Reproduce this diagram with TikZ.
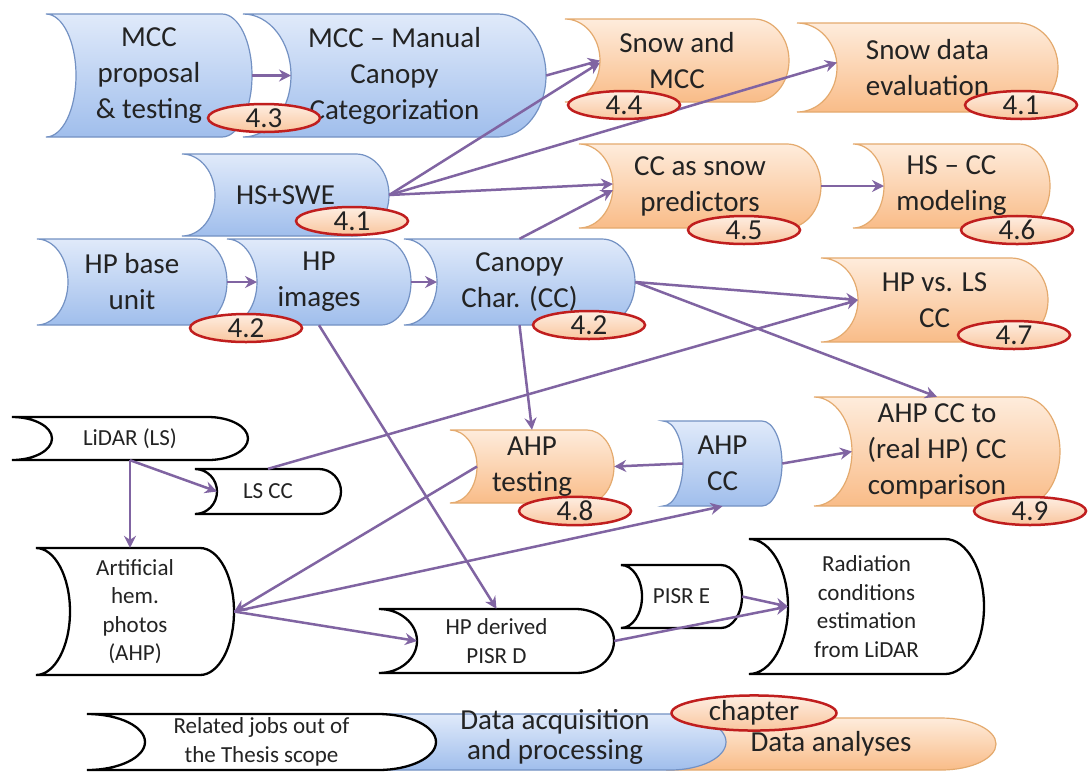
\documentclass[tikz,border=0pt]{standalone}
\usepackage{fontspec}
\setmainfont{Carlito}
\usetikzlibrary{arrows.meta,shapes.geometric}
\definecolor{arrowc}{RGB}{128,100,162}
\definecolor{blueT}{RGB}{224,234,250}
\definecolor{blueB}{RGB}{160,190,236}
\definecolor{blueD}{RGB}{115,145,195}
\definecolor{orT}{RGB}{254,236,220}
\definecolor{orB}{RGB}{249,188,136}
\definecolor{orD}{RGB}{228,170,110}
\definecolor{redD}{RGB}{192,30,30}
\definecolor{elT}{RGB}{254,238,226}
\definecolor{elB}{RGB}{249,198,158}
\definecolor{txtc}{RGB}{35,35,35}
\tikzset{
  box/.style={inner sep=0pt, align=center, text=txtc},
  big/.style={box, font=\fontsize{29}{36}\selectfont},
  small/.style={box, font=\fontsize{23}{28.5}\selectfont},
  legbig/.style={box, font=\fontsize{29}{30}\selectfont, yshift=5pt},
  bluesh/.style={draw=blueD, line width=1.2pt, top color=blueT, bottom color=blueB},
  orsh/.style={draw=orD, line width=1.2pt, top color=orT, bottom color=orB},
  whsh/.style={draw=black, line width=2.3pt, fill=white},
  num/.style={ellipse, draw=redD, line width=2.5pt, top color=elT, bottom color=elB,
    minimum width=112, minimum height=28, inner sep=0pt, text=txtc,
    font=\fontsize{29}{30}\selectfont},
  conn/.style={draw=arrowc, line width=2.5pt, -{Stealth[length=12pt,width=12pt,inset=4pt]}}
}
% #1 name, #2 shape style, #3 L, #4 T, #5 W, #6 H, #7 arc depth, #8 text style, #9 text
\newcommand\sdbox[9]{%
  \pgfmathsetmacro\sdR{#3+#5}%
  \pgfmathsetmacro\sdB{#4+#6}%
  \pgfmathsetmacro\sdM{#4+#6/2}%
  \pgfmathsetmacro\sdk{0.5523*#7}%
  \pgfmathsetmacro\sdh{0.5523*#6/2}%
  \pgfmathsetmacro\sdX{#3+#5/2}%
  \path[#2] (#3,#4) -- ({\sdR-#7},#4)
    .. controls ({\sdR-#7+\sdk},#4) and (\sdR,{\sdM-\sdh}) .. (\sdR,\sdM)
    .. controls (\sdR,{\sdM+\sdh}) and ({\sdR-#7+\sdk},\sdB) .. ({\sdR-#7},\sdB)
    -- (#3,\sdB)
    .. controls ({#3+\sdk},\sdB) and ({#3+#7},{\sdM+\sdh}) .. ({#3+#7},\sdM)
    .. controls ({#3+#7},{\sdM-\sdh}) and ({#3+\sdk},#4) .. (#3,#4) -- cycle;
  \node[#8, minimum width=#5, minimum height=#6] (#1) at (\sdX,\sdM) {#9};
  \coordinate (#1-in) at ({#3+#7},\sdM);
}
\begin{document}
\begin{tikzpicture}[x=1pt,y=-1pt]
\useasboundingbox[fill=white] (0,0) rectangle (1091,772);
% ---- shapes
\sdbox{mccp}{bluesh}{46}{14}{206}{123}{30}{big}{MCC\\proposal\\\& testing}
\sdbox{mccm}{bluesh}{243}{14}{303}{123}{48}{big}{MCC -- Manual\\Canopy\\Categorization}
\sdbox{hsswe}{bluesh}{182}{154}{207}{82}{33}{big}{HS+SWE}
\sdbox{snowmcc}{orsh}{565}{19}{224}{83}{35}{big}{Snow and\\MCC}
\sdbox{snoweval}{orsh}{797}{23}{261}{89}{40}{big}{Snow data\\evaluation}
\sdbox{ccpred}{orsh}{579}{144}{242}{84}{34}{big}{CC as snow\\predictors}
\sdbox{hscc}{orsh}{853}{144}{197}{84}{31}{big}{HS -- CC\\modeling}
\sdbox{hpbase}{bluesh}{37}{239}{190}{86}{31}{big}{HP base\\unit}
\sdbox{hpimg}{bluesh}{227}{239}{184}{86}{30}{big}{HP\\images}
\sdbox{canopy}{bluesh}{404}{239}{231}{86}{33}{big}{Canopy\\Char. (CC)}
\sdbox{hpls}{orsh}{821}{258}{227}{84}{37}{big}{HP vs. LS\\CC}
\sdbox{lidar}{whsh}{12}{417}{236}{43}{40}{small}{LiDAR (LS)}
\sdbox{lscc}{whsh}{195}{469}{146}{45}{22}{small}{LS CC}
\sdbox{ahptest}{orsh}{450}{430}{164}{73}{27}{big}{AHP\\testing}
\sdbox{ahpcc}{bluesh}{663}{421}{119}{85}{20}{big}{AHP\\CC}
\sdbox{cmp}{orsh}{814}{397}{246}{109}{38}{big}{AHP CC to\\(real HP) CC\\comparison}
\sdbox{ahp}{whsh}{36}{548}{198}{127}{34}{small}{Artificial\\hem.\\photos\\(AHP)}
\sdbox{pisrd}{whsh}{379}{609}{235}{64}{38}{small}{HP derived\\PISR D}
\sdbox{pisre}{whsh}{621}{565}{121}{63}{21}{small}{PISR E}
\sdbox{rad}{whsh}{749}{539}{235}{135}{39}{small}{Radiation\\conditions\\estimation\\from LiDAR}
% ---- legend
\sdbox{lego}{orsh}{666}{718}{330}{52}{55}{big}{Data analyses}
\sdbox{legb}{bluesh}{370}{714}{356}{56}{56}{legbig}{\hspace*{14pt}Data acquisition\\\hspace*{14pt}and processing}
\sdbox{legw}{whsh}{87}{714}{349}{56}{58}{small}{Related jobs out of\\the Thesis scope}
% ---- connectors
\draw[conn] (mccp.east) -- (mccm-in);
\draw[conn] (mccm.east) -- (snowmcc-in);
\draw[conn] (hsswe.east) -- ([yshift=-2pt]snowmcc-in);
\draw[conn] (hsswe.east) -- ([yshift=5pt]snoweval-in);
\draw[conn] (hsswe.east) -- ([yshift=2pt]ccpred-in);
\draw[conn] (canopy.north) -- ([yshift=-4pt]ccpred-in);
\draw[conn] (ccpred.east) -- (hscc-in);
\draw[conn] (hpbase.east) -- (hpimg-in);
\draw[conn] (hpimg.east) -- (canopy-in);
\draw[conn] (canopy.east) -- (hpls-in);
\draw[conn] (canopy.east) -- (cmp.north);
\draw[conn] (lscc.north) -- (hpls-in);
\draw[conn] (canopy.south) -- (ahptest.north);
\draw[conn] (hpimg.south) -- (pisrd.north);
\draw[conn] (lidar.south) -- (lscc-in);
\draw[conn] (lidar.south) -- (lidar.south |- ahp.north);
\draw[conn] (ahptest-in) -- (ahp.east);
\draw[conn] (ahp.east) -- (ahpcc.south);
\draw[conn] (ahp.east) -- (pisrd-in);
\draw[conn] (ahpcc-in) -- (ahptest.east);
\draw[conn] (ahpcc.east) -- (cmp-in);
\draw[conn] (pisre.east) -- (rad-in);
\draw[conn] (pisrd.east) -- (rad-in);
% ---- chapter labels
\node[num] (e43) at (264,118) {4.3};
\node[num] (e44) at (624,105) {4.4};
\node[num] (e41b) at (1021,105) {4.1};
\node[num] (e41a) at (352,221) {4.1};
\node[num] (e45) at (744,230) {4.5};
\node[num] (e46) at (1017,230) {4.6};
\node[num] (e42a) at (246,328) {4.2};
\node[num] (e42b) at (589,325) {4.2};
\node[num] (e47) at (1014,335) {4.7};
\node[num] (e48) at (575,511) {4.8};
\node[num] (e49) at (1030,511) {4.9};
\node[num, minimum width=165, minimum height=32] (ech) at (754,713) {chapter};
\end{tikzpicture}
\end{document}
